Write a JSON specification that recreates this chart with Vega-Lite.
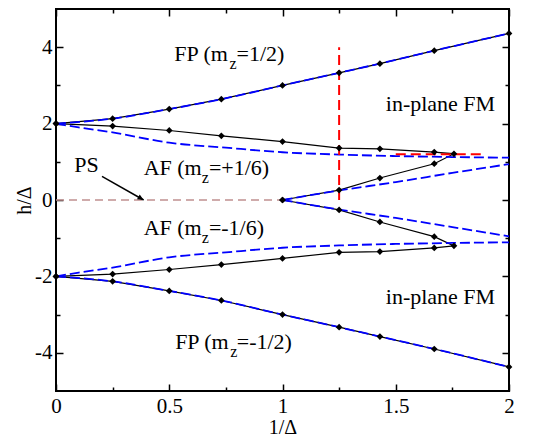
{
  "$schema": "https://vega.github.io/schema/vega-lite/v6.json",
  "width": 453,
  "height": 382,
  "autosize": "none",
  "padding": {"left": 56, "top": 9, "right": 37, "bottom": 48},
  "background": "white",
  "config": {
    "view": {"stroke": "black", "strokeWidth": 2},
    "font": "Liberation Serif",
    "axis": {
      "grid": false, "domain": false, "tickColor": "black", "tickWidth": 1.5,
      "labelFont": "Liberation Serif", "labelFontSize": 21, "labelColor": "black",
      "titleFont": "Liberation Serif", "titleFontSize": 20, "titleFontWeight": "normal", "titleColor": "black",
      "labelFlush": false, "labelOverlap": false
    }
  },
  "datasets": {
    "black": [
      {"s": "fpUp", "i": 0, "x": 0, "y": 2}, {"s": "fpUp", "i": 1, "x": 0.25, "y": 2.13}, {"s": "fpUp", "i": 2, "x": 0.5, "y": 2.38}, {"s": "fpUp", "i": 3, "x": 0.73, "y": 2.64}, {"s": "fpUp", "i": 4, "x": 1, "y": 3.0}, {"s": "fpUp", "i": 5, "x": 1.25, "y": 3.33}, {"s": "fpUp", "i": 6, "x": 1.43, "y": 3.57}, {"s": "fpUp", "i": 7, "x": 1.67, "y": 3.91}, {"s": "fpUp", "i": 8, "x": 2, "y": 4.36},
      {"s": "fpDn", "i": 0, "x": 0, "y": -2}, {"s": "fpDn", "i": 1, "x": 0.25, "y": -2.13}, {"s": "fpDn", "i": 2, "x": 0.5, "y": -2.38}, {"s": "fpDn", "i": 3, "x": 0.73, "y": -2.63}, {"s": "fpDn", "i": 4, "x": 1, "y": -3.0}, {"s": "fpDn", "i": 5, "x": 1.25, "y": -3.33}, {"s": "fpDn", "i": 6, "x": 1.43, "y": -3.575}, {"s": "fpDn", "i": 7, "x": 1.67, "y": -3.9}, {"s": "fpDn", "i": 8, "x": 2, "y": -4.37},
      {"s": "afUp", "i": 0, "x": 0, "y": 2}, {"s": "afUp", "i": 1, "x": 0.25, "y": 1.935}, {"s": "afUp", "i": 2, "x": 0.5, "y": 1.82}, {"s": "afUp", "i": 3, "x": 0.73, "y": 1.68}, {"s": "afUp", "i": 4, "x": 1, "y": 1.53}, {"s": "afUp", "i": 5, "x": 1.25, "y": 1.36}, {"s": "afUp", "i": 6, "x": 1.43, "y": 1.34}, {"s": "afUp", "i": 7, "x": 1.67, "y": 1.255}, {"s": "afUp", "i": 8, "x": 1.757, "y": 1.21}, {"s": "afUp", "i": 9, "x": 1.67, "y": 0.95}, {"s": "afUp", "i": 10, "x": 1.43, "y": 0.575}, {"s": "afUp", "i": 11, "x": 1.25, "y": 0.26}, {"s": "afUp", "i": 12, "x": 1, "y": 0},
      {"s": "afDn", "i": 0, "x": 1, "y": 0}, {"s": "afDn", "i": 1, "x": 1.25, "y": -0.26}, {"s": "afDn", "i": 2, "x": 1.43, "y": -0.575}, {"s": "afDn", "i": 3, "x": 1.67, "y": -0.96}, {"s": "afDn", "i": 4, "x": 1.757, "y": -1.2}, {"s": "afDn", "i": 5, "x": 1.67, "y": -1.255}, {"s": "afDn", "i": 6, "x": 1.43, "y": -1.35}, {"s": "afDn", "i": 7, "x": 1.25, "y": -1.37}, {"s": "afDn", "i": 8, "x": 1, "y": -1.53}, {"s": "afDn", "i": 9, "x": 0.73, "y": -1.69}, {"s": "afDn", "i": 10, "x": 0.5, "y": -1.82}, {"s": "afDn", "i": 11, "x": 0.25, "y": -1.94}, {"s": "afDn", "i": 12, "x": 0, "y": -2}
    ],
    "blue": [
      {"s": "bFU", "i": 0, "x": 0, "y": 2}, {"s": "bFU", "i": 1, "x": 0.25, "y": 2.13}, {"s": "bFU", "i": 2, "x": 0.5, "y": 2.38}, {"s": "bFU", "i": 3, "x": 0.73, "y": 2.64}, {"s": "bFU", "i": 4, "x": 1, "y": 3.0}, {"s": "bFU", "i": 5, "x": 1.25, "y": 3.33}, {"s": "bFU", "i": 6, "x": 1.43, "y": 3.57}, {"s": "bFU", "i": 7, "x": 1.67, "y": 3.91}, {"s": "bFU", "i": 8, "x": 2, "y": 4.36},
      {"s": "bFD", "i": 0, "x": 0, "y": -2}, {"s": "bFD", "i": 1, "x": 0.25, "y": -2.13}, {"s": "bFD", "i": 2, "x": 0.5, "y": -2.38}, {"s": "bFD", "i": 3, "x": 0.73, "y": -2.63}, {"s": "bFD", "i": 4, "x": 1, "y": -3.0}, {"s": "bFD", "i": 5, "x": 1.25, "y": -3.33}, {"s": "bFD", "i": 6, "x": 1.43, "y": -3.575}, {"s": "bFD", "i": 7, "x": 1.67, "y": -3.9}, {"s": "bFD", "i": 8, "x": 2, "y": -4.37},
      {"s": "b2U", "i": 0, "x": 0, "y": 2}, {"s": "b2U", "i": 1, "x": 0.1, "y": 1.9}, {"s": "b2U", "i": 2, "x": 0.25, "y": 1.77}, {"s": "b2U", "i": 3, "x": 0.5, "y": 1.5}, {"s": "b2U", "i": 4, "x": 0.75, "y": 1.37}, {"s": "b2U", "i": 5, "x": 1, "y": 1.25}, {"s": "b2U", "i": 6, "x": 1.25, "y": 1.19}, {"s": "b2U", "i": 7, "x": 1.5, "y": 1.15}, {"s": "b2U", "i": 8, "x": 1.75, "y": 1.125}, {"s": "b2U", "i": 9, "x": 2, "y": 1.107},
      {"s": "b2D", "i": 0, "x": 0, "y": -2}, {"s": "b2D", "i": 1, "x": 0.1, "y": -1.9}, {"s": "b2D", "i": 2, "x": 0.25, "y": -1.77}, {"s": "b2D", "i": 3, "x": 0.5, "y": -1.5}, {"s": "b2D", "i": 4, "x": 0.75, "y": -1.37}, {"s": "b2D", "i": 5, "x": 1, "y": -1.25}, {"s": "b2D", "i": 6, "x": 1.25, "y": -1.19}, {"s": "b2D", "i": 7, "x": 1.5, "y": -1.15}, {"s": "b2D", "i": 8, "x": 1.75, "y": -1.125}, {"s": "b2D", "i": 9, "x": 2, "y": -1.107},
      {"s": "b3U", "i": 0, "x": 1, "y": 0}, {"s": "b3U", "i": 1, "x": 1.25, "y": 0.25}, {"s": "b3U", "i": 2, "x": 1.5, "y": 0.47}, {"s": "b3U", "i": 3, "x": 1.75, "y": 0.71}, {"s": "b3U", "i": 4, "x": 2, "y": 0.94},
      {"s": "b3D", "i": 0, "x": 1, "y": 0}, {"s": "b3D", "i": 1, "x": 1.25, "y": -0.25}, {"s": "b3D", "i": 2, "x": 1.5, "y": -0.47}, {"s": "b3D", "i": 3, "x": 1.75, "y": -0.71}, {"s": "b3D", "i": 4, "x": 2, "y": -0.95}
    ],
    "red": [
      {"s": "v", "i": 0, "x": 1.25, "y": 0}, {"s": "v", "i": 1, "x": 1.25, "y": 4},
      {"s": "h", "i": 0, "x": 1.5, "y": 1.2}, {"s": "h", "i": 1, "x": 1.895, "y": 1.2}
    ],
    "pink": [{"i": 0, "x": 0, "y": 0}, {"i": 1, "x": 1, "y": 0}],
    "arrow": [{"i": 0, "x": 0.203, "y": 0.62}, {"i": 1, "x": 0.387, "y": 0}],
    "head": [{"x": 0.387, "y": 0}],
    "lbl": [
      {"t": "FP (m", "x": 0.522, "y": 3.627}, {"t": "=1/2)", "x": 0.797, "y": 3.627},
      {"t": "in-plane FM", "x": 1.456, "y": 2.337},
      {"t": "PS", "x": 0.081, "y": 0.724},
      {"t": "AF (m", "x": 0.387, "y": 0.645}, {"t": "=+1/6)", "x": 0.675, "y": 0.645},
      {"t": "AF (m", "x": 0.387, "y": -0.924}, {"t": "=-1/6)", "x": 0.675, "y": -0.924},
      {"t": "in-plane FM", "x": 1.456, "y": -2.72},
      {"t": "FP (m", "x": 0.526, "y": -3.89}, {"t": "=-1/2)", "x": 0.798, "y": -3.89}
    ],
    "sub": [
      {"t": "z", "x": 0.766, "y": 3.627},
      {"t": "z", "x": 0.644, "y": 0.645},
      {"t": "z", "x": 0.644, "y": -0.924},
      {"t": "z", "x": 0.769, "y": -3.89}
    ]
  },
  "resolve": {"axis": {"x": "independent", "y": "independent"}},
  "layer": [
    {
      "data": {"name": "head"},
      "mark": {"type": "point", "opacity": 0},
      "encoding": {
        "x": {"field": "x", "type": "quantitative", "scale": {"domain": [0, 2], "nice": false, "zero": false},
              "axis": {"orient": "bottom", "values": [0, 0.5, 1, 1.5, 2], "labelExpr": "datum.value + ''", "tickSize": -7, "labelPadding": 11, "title": "1/Δ", "titlePadding": 1}},
        "y": {"field": "y", "type": "quantitative", "scale": {"domain": [-5, 5], "nice": false, "zero": false},
              "axis": {"orient": "left", "values": [-4, -2, 0, 2, 4], "labelExpr": "datum.value + ''", "tickSize": -7, "labelPadding": 11, "title": "h/Δ", "titlePadding": 0}}
      }
    },
    {
      "data": {"name": "head"},
      "mark": {"type": "point", "opacity": 0},
      "encoding": {
        "x": {"field": "x", "type": "quantitative", "axis": {"orient": "bottom", "values": [0.25, 0.75, 1.25, 1.75], "tickSize": -4, "labels": false, "title": null}},
        "y": {"field": "y", "type": "quantitative", "axis": {"orient": "left", "values": [-3, -1, 1, 3], "tickSize": -4, "labels": false, "title": null}}
      }
    },
    {
      "data": {"name": "head"},
      "mark": {"type": "point", "opacity": 0},
      "encoding": {
        "x": {"field": "x", "type": "quantitative", "axis": {"orient": "top", "values": [0, 0.5, 1, 1.5, 2], "tickSize": -7, "labels": false, "title": null}},
        "y": {"field": "y", "type": "quantitative", "axis": {"orient": "right", "values": [-4, -2, 0, 2, 4], "tickSize": -7, "labels": false, "title": null}}
      }
    },
    {
      "data": {"name": "head"},
      "mark": {"type": "point", "opacity": 0},
      "encoding": {
        "x": {"field": "x", "type": "quantitative", "axis": {"orient": "top", "values": [0.25, 0.75, 1.25, 1.75], "tickSize": -4, "labels": false, "title": null}},
        "y": {"field": "y", "type": "quantitative", "axis": {"orient": "right", "values": [-3, -1, 1, 3], "tickSize": -4, "labels": false, "title": null}}
      }
    },
    {
      "data": {"name": "black"},
      "mark": {"type": "line", "color": "black", "strokeWidth": 1.2},
      "encoding": {
        "x": {"field": "x", "type": "quantitative", "axis": null},
        "y": {"field": "y", "type": "quantitative", "axis": null},
        "detail": {"field": "s"},
        "order": {"field": "i", "type": "quantitative"}
      }
    },
    {
      "data": {"name": "blue"},
      "mark": {"type": "line", "color": "#0000ff", "strokeWidth": 1.8, "strokeDash": [10, 4], "interpolate": "monotone"},
      "encoding": {
        "x": {"field": "x", "type": "quantitative", "axis": null},
        "y": {"field": "y", "type": "quantitative", "axis": null},
        "detail": {"field": "s"},
        "order": {"field": "i", "type": "quantitative"}
      }
    },
    {
      "data": {"name": "red"},
      "mark": {"type": "line", "color": "#ff0000", "strokeWidth": 2, "strokeDash": [10, 5]},
      "encoding": {
        "x": {"field": "x", "type": "quantitative", "axis": null},
        "y": {"field": "y", "type": "quantitative", "axis": null},
        "detail": {"field": "s"},
        "order": {"field": "i", "type": "quantitative"}
      }
    },
    {
      "data": {"name": "pink"},
      "mark": {"type": "line", "color": "#c09090", "strokeWidth": 1.5, "strokeDash": [8, 5]},
      "encoding": {
        "x": {"field": "x", "type": "quantitative", "axis": null},
        "y": {"field": "y", "type": "quantitative", "axis": null},
        "order": {"field": "i", "type": "quantitative"}
      }
    },
    {
      "data": {"name": "arrow"},
      "mark": {"type": "line", "color": "black", "strokeWidth": 1.5},
      "encoding": {
        "x": {"field": "x", "type": "quantitative", "axis": null},
        "y": {"field": "y", "type": "quantitative", "axis": null},
        "order": {"field": "i", "type": "quantitative"}
      }
    },
    {
      "data": {"name": "head"},
      "mark": {"type": "point", "shape": "M0,0L-1,-0.45L-1,0.45Z", "filled": true, "color": "black", "opacity": 1, "size": 150, "angle": 30},
      "encoding": {
        "x": {"field": "x", "type": "quantitative", "axis": null},
        "y": {"field": "y", "type": "quantitative", "axis": null}
      }
    },
    {
      "data": {"name": "black"},
      "mark": {"type": "point", "shape": "diamond", "filled": true, "color": "black", "opacity": 1, "size": 45},
      "encoding": {
        "x": {"field": "x", "type": "quantitative", "axis": null},
        "y": {"field": "y", "type": "quantitative", "axis": null}
      }
    },
    {
      "data": {"name": "lbl"},
      "mark": {"type": "text", "align": "left", "baseline": "alphabetic", "font": "Liberation Serif", "fontSize": 22, "color": "black"},
      "encoding": {
        "x": {"field": "x", "type": "quantitative", "axis": null},
        "y": {"field": "y", "type": "quantitative", "axis": null},
        "text": {"field": "t"}
      }
    },
    {
      "data": {"name": "sub"},
      "mark": {"type": "text", "align": "left", "baseline": "alphabetic", "font": "Liberation Serif", "fontSize": 16, "dy": 8, "color": "black"},
      "encoding": {
        "x": {"field": "x", "type": "quantitative", "axis": null},
        "y": {"field": "y", "type": "quantitative", "axis": null},
        "text": {"field": "t"}
      }
    }
  ]
}
